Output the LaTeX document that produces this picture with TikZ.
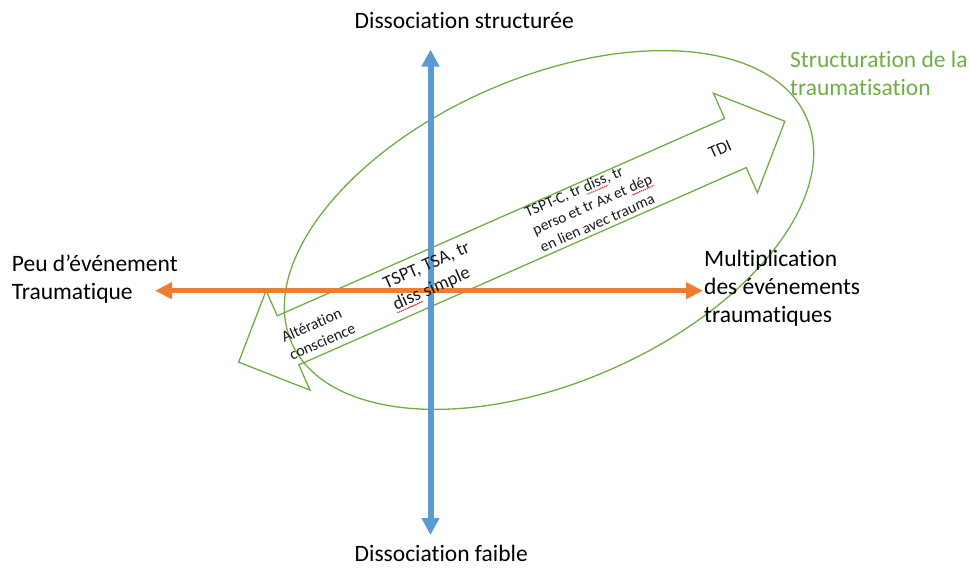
\documentclass[tikz,border=0pt]{standalone}
\usepackage{fontspec}
\setmainfont{Carlito}[Ligatures=NoCommon]
\usetikzlibrary{arrows.meta,decorations.pathmorphing}
\definecolor{offblue}{HTML}{5B9BD5}
\definecolor{offorange}{HTML}{ED7D31}
\definecolor{offgreen}{HTML}{70AD47}
\definecolor{spellred}{HTML}{E81123}
\newcommand\redwave[1]{\tikz[reset cm, baseline=(rw.base)]{%
  \node[inner sep=0pt, outer sep=0pt] (rw) {#1};
  \draw[spellred, line width=0.45pt, decorate,
    decoration={snake, amplitude=0.6pt, segment length=2.4pt}]
    ([yshift=-2.6pt]rw.base west) -- ([yshift=-2.6pt]rw.base east);}}
\tikzset{
  axislabel/.style={font=\fontsize{23.5}{28}\selectfont, inner sep=0pt, text=black, align=left},
  greenlabel/.style={axislabel, text=offgreen},
  shapeline/.style={draw=offgreen, line width=1.3pt, line join=miter},
  inarrow/.style={inner sep=0pt, align=left, text=black!90, anchor=base west},
  bluebar/.style={draw=offblue, line width=6pt,
    {Triangle[length=17pt,width=17pt]}-{Triangle[length=17pt,width=17pt]}},
  orangebar/.style={draw=offorange, line width=5.5pt,
    {Triangle[length=17pt,width=16pt]}-{Triangle[length=17pt,width=16pt]}},
}
\begin{document}
\begin{tikzpicture}[x=1pt, y=-1pt]
\useasboundingbox (0,0) rectangle (970,568);

% ellipse
\begin{scope}[shift={(549,230)}, rotate=23.6]
  \draw[shapeline] (0,0) ellipse [x radius=281pt, y radius=152.5pt];
\end{scope}

% double block arrow
\begin{scope}[shift={(511.75,241.7)}, rotate=23.8]
  \draw[shapeline] (-298.5,0) -- (-244.5,-54.4) -- (-244.5,-26.8) -- (244.5,-26.8)
    -- (244.5,-54.4) -- (298.5,0) -- (244.5,54.4) -- (244.5,26.8)
    -- (-244.5,26.8) -- (-244.5,54.4) -- cycle;
\end{scope}

% axes
\coordinate (vtop) at (430.5,49.5);
\coordinate (vbot) at (430.5,535);
\coordinate (hleft) at (155,290.7);
\coordinate (hright) at (703,290.7);
\draw[bluebar] (vtop) -- (vbot);
\draw[orangebar] (hleft) -- (hright);

% axis labels (base anchor = baseline of the last line)
\node[axislabel, anchor=base west] (ltop) at (354.5,28) {Dissociation structurée};
\node[axislabel, anchor=base west] (lbot) at (354.5,561) {Dissociation faible};
\node[axislabel, anchor=base west] (lleft) at (11.7,299.3) {Peu d’événement\\Traumatique};
\node[axislabel, anchor=base west] (lright) at (704,322.7) {Multiplication\\des événements\\traumatiques};
\node[greenlabel, anchor=base west] (lgreen) at (790,95) {Structuration de la\\traumatisation};

% texts in the arrow (local frame: u along the arrow, n downwards across it)
\begin{scope}[shift={(511.75,241.7)}, rotate=23.8, transform shape]
  \node[inarrow, anchor=center, font=\fontsize{17}{20}\selectfont] (tdi) at (228,-0.7) {TDI};
  \node[inarrow, font=\fontsize{15.5}{19}\selectfont] (tsptc) at (24,22.5)
    {TSPT-C, tr \redwave{diss}, tr\\perso et tr Ax et \redwave{dép}\\en lien avec trauma};
  \node[inarrow, font=\fontsize{18.5}{23.5}\selectfont] (tspt) at (-134,16.2)
    {TSPT, TSA, tr\\\redwave{diss} simple};
  \node[inarrow, font=\fontsize{15.8}{19.3}\selectfont] (alt) at (-249,20.2)
    {Altération\\conscience};
\end{scope}
\end{tikzpicture}
\end{document}
